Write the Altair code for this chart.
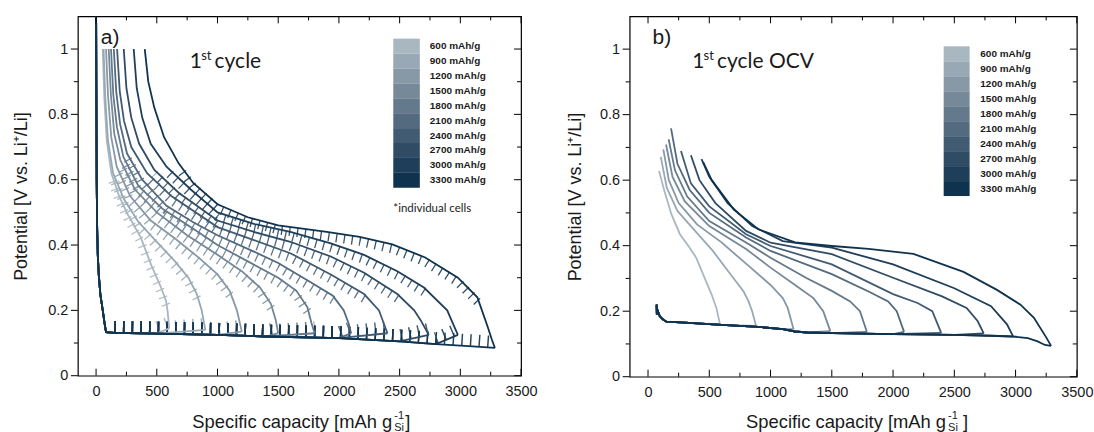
import altair as alt
import pandas as pd

# ---------------- data ----------------
LABELS = ["600 mAh/g", "900 mAh/g", "1200 mAh/g", "1500 mAh/g", "1800 mAh/g",
          "2100 mAh/g", "2400 mAh/g", "2700 mAh/g", "3000 mAh/g", "3300 mAh/g"]
COLORS = ["#a9b7c1", "#98a9b5", "#8798a7", "#758999", "#64798c",
          "#536a7f", "#415b72", "#304c65", "#1f3e59", "#0f334e"]

# panel a: lithiation (shared by all cells), capacity [mAh/g], potential [V]
A_LITH = [(0, 1.15), (2, 0.9), (5, 0.6), (9, 0.45), (14, 0.37), (22, 0.31), (35, 0.25),
          (55, 0.2), (70, 0.16), (82, 0.133), (150, 0.131), (500, 0.129), (1000, 0.125),
          (1400, 0.12), (2000, 0.115), (2500, 0.105), (2800, 0.097), (3100, 0.09), (3300, 0.078)]
# panel a: delithiation (pulse envelope), from 1 V cut-off to end of lithiation
A_600 = [(55, 1.0), (68, 0.85), (88, 0.72), (126, 0.62), (190, 0.55), (261, 0.494), (370, 0.422),
         (452, 0.341), (535, 0.27), (576, 0.229), (589, 0.198), (603, 0.145)]
A_900 = [(62, 1.0), (76, 0.85), (98, 0.72), (140, 0.62), (230, 0.54), (350, 0.47), (500, 0.41),
         (650, 0.35), (760, 0.3), (830, 0.25), (870, 0.2), (900, 0.14)]
A_1200 = [(82, 1.0), (98, 0.86), (125, 0.73), (170, 0.64), (280, 0.55), (450, 0.475), (650, 0.42),
          (850, 0.36), (1000, 0.31), (1100, 0.26), (1160, 0.2), (1185, 0.16), (1200, 0.135)]
A_1500 = [(104, 1.0), (122, 0.86), (150, 0.74), (200, 0.66), (320, 0.57), (500, 0.5), (750, 0.43),
          (1000, 0.37), (1200, 0.32), (1350, 0.27), (1440, 0.22), (1480, 0.17), (1500, 0.13)]
A_1800 = [(123, 1.0), (142, 0.86), (172, 0.76), (225, 0.67), (350, 0.58), (550, 0.51), (800, 0.45),
          (1000, 0.4), (1250, 0.35), (1500, 0.3), (1650, 0.26), (1740, 0.21), (1775, 0.16), (1800, 0.13)]
A_2100 = [(146, 1.0), (166, 0.87), (198, 0.77), (255, 0.68), (380, 0.6), (580, 0.52), (800, 0.47),
          (1000, 0.43), (1300, 0.38), (1500, 0.345), (1750, 0.29), (1950, 0.245), (2040, 0.2),
          (2080, 0.16), (2100, 0.13)]
A_2400 = [(173, 1.0), (195, 0.87), (230, 0.78), (290, 0.7), (420, 0.62), (620, 0.55), (1000, 0.455),
          (1300, 0.415), (1600, 0.375), (1933, 0.31), (2207, 0.25), (2330, 0.2), (2370, 0.16), (2400, 0.13)]
A_2700 = [(228, 1.0), (250, 0.88), (290, 0.79), (355, 0.71), (480, 0.63), (680, 0.56), (1000, 0.475),
          (1300, 0.44), (1600, 0.41), (1933, 0.365), (2207, 0.315), (2481, 0.25), (2620, 0.2),
          (2673, 0.17), (2740, 0.125)]
A_3000 = [(310, 1.0), (335, 0.88), (380, 0.79), (450, 0.71), (580, 0.64), (780, 0.57), (1000, 0.5),
          (1300, 0.465), (1600, 0.44), (1933, 0.405), (2207, 0.37), (2481, 0.32), (2700, 0.27),
          (2892, 0.2), (2950, 0.15), (2980, 0.125)]
A_3300 = [(401, 1.0), (430, 0.9), (480, 0.82), (560, 0.73), (680, 0.65), (800, 0.59), (1000, 0.525),
          (1250, 0.485), (1500, 0.46), (1900, 0.44), (2170, 0.425), (2440, 0.402), (2710, 0.362),
          (2980, 0.3), (3140, 0.24), (3225, 0.15), (3260, 0.11), (3285, 0.085)]

# panel b: OCV lithiation (shared) and delithiation curves
B_LITH = [(70, 0.22), (72, 0.19), (80, 0.2), (95, 0.185), (120, 0.175), (150, 0.168), (300, 0.165),
          (600, 0.158), (900, 0.152), (1100, 0.145), (1200, 0.138), (1300, 0.135), (1500, 0.133),
          (2000, 0.13), (2500, 0.128), (2800, 0.125), (3000, 0.122), (3100, 0.118), (3180, 0.108),
          (3240, 0.097), (3290, 0.094)]
B_600 = [(90, 0.628), (135, 0.565), (190, 0.497), (260, 0.435), (340, 0.394), (395, 0.362),
         (460, 0.303), (520, 0.25), (558, 0.21), (587, 0.16)]
B_900 = [(104, 0.671), (153, 0.577), (240, 0.506), (384, 0.445), (529, 0.384), (673, 0.313),
         (780, 0.26), (818, 0.232), (850, 0.2), (882, 0.155)]
B_1200 = [(125, 0.694), (170, 0.6), (250, 0.53), (400, 0.465), (600, 0.41), (800, 0.345),
          (1000, 0.28), (1100, 0.24), (1140, 0.21), (1188, 0.145)]
B_1500 = [(147, 0.709), (200, 0.61), (300, 0.535), (500, 0.46), (800, 0.39), (1000, 0.333),
          (1200, 0.28), (1350, 0.24), (1430, 0.2), (1488, 0.139)]
B_1800 = [(168, 0.725), (220, 0.63), (320, 0.55), (500, 0.475), (800, 0.41), (1000, 0.363),
          (1300, 0.3), (1500, 0.262), (1650, 0.23), (1730, 0.2), (1786, 0.137)]
B_2100 = [(188, 0.758), (240, 0.65), (340, 0.57), (500, 0.5), (800, 0.425), (1000, 0.384),
          (1500, 0.313), (1800, 0.26), (1960, 0.23), (2030, 0.2), (2090, 0.137)]
B_2400 = [(269, 0.689), (350, 0.59), (500, 0.52), (800, 0.435), (1000, 0.399), (1500, 0.343),
          (2000, 0.252), (2200, 0.225), (2320, 0.2), (2393, 0.134)]
B_2700 = [(350, 0.676), (420, 0.6), (550, 0.53), (800, 0.445), (1000, 0.409), (1500, 0.374),
          (2000, 0.302), (2400, 0.245), (2600, 0.21), (2690, 0.17), (2740, 0.132)]
B_3000 = [(437, 0.664), (500, 0.61), (650, 0.53), (850, 0.46), (1100, 0.414), (1500, 0.394),
          (2000, 0.343), (2500, 0.27), (2800, 0.215), (2930, 0.16), (2980, 0.123)]
B_3300 = [(450, 0.655), (520, 0.6), (700, 0.51), (900, 0.45), (1200, 0.41), (1500, 0.399),
          (1800, 0.39), (2166, 0.375), (2575, 0.32), (2848, 0.265), (3040, 0.22), (3150, 0.18),
          (3250, 0.12), (3290, 0.094)]

X_MAJOR = [0, 500, 1000, 1500, 2000, 2500, 3000, 3500]
X_MINOR = [250, 750, 1250, 1750, 2250, 2750, 3250]
Y_MAJOR = [0, 0.2, 0.4, 0.6, 0.8, 1.0]
Y_MINOR = [0.1, 0.3, 0.5, 0.7, 0.9]

# ---------------- build tables ----------------
def build(lith, curves):
    rows = []
    for lab, pts in zip(LABELS, curves):
        xe, ye = pts[-1]
        seg = [p for p in lith if p[0] < xe] + [(xe, ye)]
        for k, (x, y) in enumerate(seg):
            rows.append(dict(cell=lab, seg="lith", o=k, x=x, y=y))
        for k, (x, y) in enumerate(reversed(pts)):
            rows.append(dict(cell=lab, seg="delith", o=k, x=x, y=y))
    return pd.DataFrame(rows)

DF_A = build(A_LITH, [A_600, A_900, A_1200, A_1500, A_1800, A_2100, A_2400, A_2700, A_3000, A_3300])
DF_B = build(B_LITH, [B_600, B_900, B_1200, B_1500, B_1800, B_2100, B_2400, B_2700, B_3000, B_3300])

XS = alt.Scale(domain=[-150, 3500], nice=False, zero=False)
YS = alt.Scale(domain=[0, 1.1], nice=False, zero=False)
CS = alt.Scale(domain=LABELS, range=COLORS)
FONT = "Liberation Sans"
TXT = "#1a1a1a"


def axes(H, ytitle_x):
    ax = alt.Axis(values=X_MAJOR, format="d", ticks=False, domain=False, grid=False, tickSize=0,
                  labelFont=FONT, labelFontSize=14.5, labelColor=TXT, labelPadding=9,
                  labelFlush=False, labelOverlap=False, title=None)
    ay = alt.Axis(values=Y_MAJOR, format="~g", ticks=False, domain=False, grid=False, tickSize=0,
                  labelFont=FONT, labelFontSize=14.5, labelColor=TXT, labelPadding=10,
                  labelFlush=False, labelOverlap=False,
                  title="Potential [V vs. Li\u207a/Li]", titleFont=FONT, titleFontSize=18,
                  titleFontWeight="normal", titleColor=TXT, titleX=ytitle_x, titleY=H / 2,
                  titleAngle=270, titleBaseline="middle", titleAlign="center")
    return ax, ay


def txt(t, x, y, size, font=FONT, align="left", weight="normal", angle=0, baseline="alphabetic"):
    return alt.Chart(pd.DataFrame({"t": [t]})).mark_text(
        align=align, baseline=baseline, fontSize=size, font=font, fontWeight=weight,
        color=TXT, angle=angle
    ).encode(x=alt.value(x), y=alt.value(y), text="t:N")


def tick_layers(W, H, ax, ay):
    out = []
    for vals, size in ((X_MAJOR, 7), (X_MINOR, 4)):
        d = pd.DataFrame({"x": vals})
        out.append(alt.Chart(d).mark_rule(color="black", strokeWidth=1).encode(
            x=alt.X("x:Q", scale=XS, axis=ax), y=alt.value(H), y2=alt.value(H - size)))
        out.append(alt.Chart(d).mark_rule(color="black", strokeWidth=1).encode(
            x=alt.X("x:Q", scale=XS, axis=ax), y=alt.value(0), y2=alt.value(size)))
    for vals, size in ((Y_MAJOR, 7), (Y_MINOR, 4)):
        d = pd.DataFrame({"y": vals})
        out.append(alt.Chart(d).mark_rule(color="black", strokeWidth=1).encode(
            y=alt.Y("y:Q", scale=YS, axis=ay), x=alt.value(-size), x2=alt.value(0)))
        out.append(alt.Chart(d).mark_rule(color="black", strokeWidth=1).encode(
            y=alt.Y("y:Q", scale=YS, axis=ay), x=alt.value(W - size), x2=alt.value(W)))
    return out


def legend_layers(x0, x1, y0, h, lx):
    d = pd.DataFrame({"cell": LABELS, "i": list(range(len(LABELS)))})
    base = alt.Chart(d).transform_calculate(
        ya=f"{y0} + {h} * datum.i", yb=f"{y0} + {h} * (datum.i + 1)", ym=f"{y0} + {h} * (datum.i + 0.5)")
    sw = base.mark_rect().encode(
        x=alt.value(x0), x2=alt.value(x1),
        y=alt.Y("ya:Q", scale=None), y2="yb:Q",
        color=alt.Color("cell:N", scale=CS, legend=None))
    lb = base.mark_text(align="left", baseline="middle", fontSize=10, font=FONT,
                        fontWeight="bold", color=TXT).encode(
        x=alt.value(lx), y=alt.Y("ym:Q", scale=None), text="cell:N")
    return [sw, lb]


def panel(df, W, H, spikes, letter, cyc_rest, cyc_x, leg, xt_x, xt_gap, ytitle_x, extra=()):
    ax, ay = axes(H, ytitle_x)
    base = alt.Chart(df)
    enc = dict(
        x=alt.X("x:Q", scale=XS, axis=ax),
        y=alt.Y("y:Q", scale=YS, axis=ay),
        color=alt.Color("cell:N", scale=CS, legend=None),
        detail="seg:N",
        order="o:Q",
    )
    layers = []
    if spikes:
        layers.append(base.transform_filter(
            "datum.seg == 'delith' && datum.y < 0.7 && datum.y > 0.2").mark_line(
            strokeWidth=9, strokeDash=[1.3, 6.6], yOffset=4.5, clip=True,
            strokeCap="butt", strokeJoin="bevel", opacity=0.85).encode(**enc))
        layers.append(base.transform_filter("datum.seg == 'lith' && datum.x >= 100").mark_line(
            strokeWidth=12, strokeDash=[1.5, 7.2], yOffset=-6, clip=True,
            strokeCap="butt", strokeJoin="bevel", opacity=0.9).encode(**enc))
    layers.append(base.mark_line(strokeWidth=1.8, clip=True).encode(**enc))
    layers += tick_layers(W, H, ax, ay)
    layers += legend_layers(*leg)
    layers.append(txt(letter, 23, 28, 21))
    layers.append(txt("1", cyc_x, 52, 21, font="Lato"))
    layers.append(txt("st", cyc_x + 11.5, 44, 13, font="Lato"))
    layers.append(txt(cyc_rest, cyc_x + 25, 52, 21, font="Lato"))
    layers.append(txt("Specific capacity [mAh g", xt_x, 412, 18.4, align="right"))
    layers.append(txt("-1", xt_x + 2, 403, 11))
    layers.append(txt("Si", xt_x + 2, 415, 11))
    layers.append(txt("]", xt_x + xt_gap, 412, 18.4))
    layers += list(extra)
    return alt.layer(*layers).properties(width=W, height=H)


WA, HA = 444, 360
WB, HB = 448, 361

extra_a = [
    txt("*individual cells", 316, 196, 11.5, font="Lato"),
    alt.Chart(pd.DataFrame({"a": [0]})).mark_rect(color="white").encode(
        x=alt.value(-76.7), x2=alt.value(-72), y=alt.value(-15), y2=alt.value(-12)),
]
pa = panel(DF_A, WA, HA, True, "a)", "cycle", 112, (316, 342.6, 22.3, 14.94, 352.6), 315, 13, -56, extra_a)
pb = panel(DF_B, WB, HB, False, "b)", "cycle OCV", 62.6, (314.6, 340.6, 30, 15, 351.3), 317, 17, -54)

chart = alt.hconcat(pa, pb, spacing=108.8, bounds="flush").configure_view(
    stroke="black", strokeWidth=1.2
).properties(padding={"left": 0, "top": 0, "right": 0, "bottom": 0}, background="white")

chart.save("out.html", embed_options={"renderer": "svg", "actions": False})
